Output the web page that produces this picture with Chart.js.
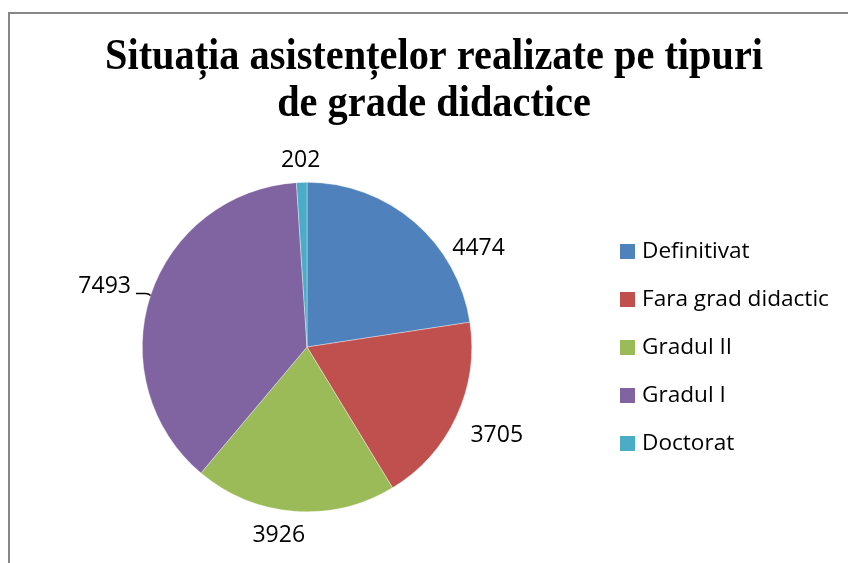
<!DOCTYPE html>
<html>
<head>
<meta charset="utf-8">
<script src="https://cdn.jsdelivr.net/npm/chart.js@4/dist/chart.umd.min.js"></script>
<style>
  html, body { margin: 0; padding: 0; background: #ffffff; }
  #wrap { width: 848px; height: 563px; position: relative; }
</style>
</head>
<body>
<div id="wrap"><canvas id="c" width="848" height="563"></canvas></div>
<script>
// ---- data ----
const titleLines = ['Situația asistențelor realizate pe tipuri', 'de grade didactice'];
const categories = ['Definitivat', 'Fara grad didactic', 'Gradul II', 'Gradul I', 'Doctorat'];
const values = [4474, 3705, 3926, 7493, 202];
const sliceColors = ['#4F81BD', '#C0504D', '#9BBB59', '#8064A2', '#4BACC6'];

// ---- label placement tweaks (Excel "best fit" look) ----
const labelTweaks = [
  { nudgeDeg: 17, gap: 12, leader: false },
  { nudgeDeg: 2,  gap: 22, leader: false },
  { nudgeDeg: 3.4, gap: 17, leader: false },
  { nudgeDeg: 0,  gap: 22, leader: true },
  { nudgeDeg: 0,  gap: 13, leader: false }
];

const frameAndTitle = {
  id: 'frameAndTitle',
  beforeDraw(chart) {
    const ctx = chart.ctx;
    ctx.save();
    ctx.fillStyle = '#ffffff';
    ctx.fillRect(0, 0, chart.width, chart.height);
    ctx.fillStyle = '#878787';
    ctx.fillRect(8, 12, 2, chart.height - 12);
    ctx.fillRect(8, 12, chart.width - 8, 2);
    // title
    ctx.fillStyle = '#000000';
    ctx.font = 'bold 44px "Liberation Serif"';
    ctx.textBaseline = 'alphabetic';
    ctx.textAlign = 'center';
    const w0 = ctx.measureText(titleLines[0]).width;
    const sx = 658 / w0;
    const cx = 434;
    const baselines = [69, 116];
    titleLines.forEach((t, i) => {
      ctx.save();
      ctx.translate(cx, baselines[i]);
      ctx.scale(sx, 1);
      ctx.fillText(t, 0, 0);
      ctx.restore();
    });
    ctx.restore();
  },
  afterDraw(chart) {
    const ctx = chart.ctx;
    const meta = chart.getDatasetMeta(0);
    const area = chart.chartArea;
    const cyMid = (area.top + area.bottom) / 2;
    ctx.save();
    // legend
    ctx.font = '22.6px "Open Sans"';
    ctx.textBaseline = 'middle';
    ctx.textAlign = 'left';
    categories.forEach((name, i) => {
      const y = cyMid + (i - (categories.length - 1) / 2) * 48;
      ctx.fillStyle = sliceColors[i];
      ctx.fillRect(620, Math.round(y - 7.5), 15, 15);
      ctx.fillStyle = '#000000';
      ctx.fillText(name, 642, y + 1);
    });
    // data labels
    ctx.font = '23px "Open Sans"';
    ctx.textAlign = 'center';
    ctx.textBaseline = 'middle';
    meta.data.forEach((arc, i) => {
      const p = arc.getProps(['x', 'y', 'startAngle', 'endAngle', 'outerRadius'], true);
      const tw = labelTweaks[i];
      const mid = (p.startAngle + p.endAngle) / 2 + tw.nudgeDeg * Math.PI / 180;
      const dx = Math.cos(mid), dy = Math.sin(mid);
      const px = p.x + p.outerRadius * dx, py = p.y + p.outerRadius * dy;
      const txt = String(values[i]);
      const w = ctx.measureText(txt).width, h = 17;
      const lx = px + dx * tw.gap + dx * w / 2;
      const ly = py + dy * tw.gap + dy * h / 2;
      ctx.fillStyle = '#000000';
      ctx.fillText(txt, lx, ly);
      if (tw.leader) {
        ctx.strokeStyle = '#000000';
        ctx.lineWidth = 1.5;
        ctx.beginPath();
        const sxp = lx + w / 2 + 5;
        ctx.moveTo(sxp, py - 2);
        ctx.lineTo(px - 5, py - 2);
        ctx.quadraticCurveTo(px - 2, py - 2, px, py);
        ctx.stroke();
      }
    });
    ctx.restore();
  }
};

new Chart(document.getElementById('c'), {
  type: 'pie',
  data: {
    labels: categories,
    datasets: [{
      data: values,
      backgroundColor: sliceColors,
      borderColor: 'rgba(255,255,255,0.6)',
      borderWidth: 0.6
    }]
  },
  options: {
    responsive: false,
    animation: false,
    layout: { padding: { left: 142, right: 376, top: 182, bottom: 51 } },
    plugins: {
      legend: { display: false },
      title: { display: false },
      tooltip: { enabled: false }
    }
  },
  plugins: [frameAndTitle]
});
</script>
</body>
</html>
